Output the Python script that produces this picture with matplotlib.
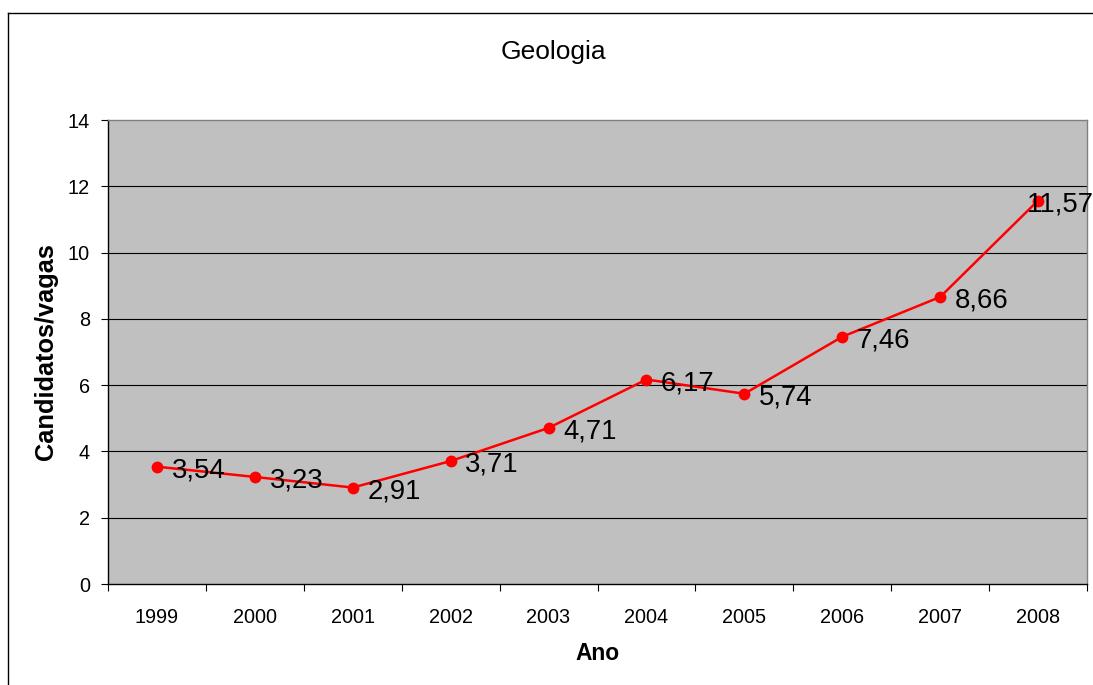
import matplotlib
matplotlib.use("Agg")
import matplotlib.pyplot as plt
from matplotlib.lines import Line2D
from matplotlib.ticker import FixedLocator, NullFormatter

plt.rcParams['font.family'] = ['Liberation Sans', 'DejaVu Sans']

years = ['1999', '2000', '2001', '2002', '2003', '2004', '2005', '2006', '2007', '2008']
values = [3.54, 3.23, 2.91, 3.71, 4.71, 6.17, 5.74, 7.46, 8.66, 11.57]
value_labels = ['3,54', '3,23', '2,91', '3,71', '4,71', '6,17', '5,74', '7,46', '8,66', '11,57']
yticks = [0, 2, 4, 6, 8, 10, 12, 14]

W, H = 1093, 685
fig = plt.figure(figsize=(W / 100, H / 100), dpi=100)
fig.patch.set_facecolor('white')

# outer chart border (left and top)
fig.add_artist(Line2D([8 / W, 8 / W], [0, 1 - 13 / H], color='black', lw=1.0, transform=fig.transFigure))
fig.add_artist(Line2D([8 / W, 1], [1 - 13 / H, 1 - 13 / H], color='black', lw=1.0, transform=fig.transFigure))

l, r, t, b = 108, 1087, 120, 584
ax = fig.add_axes([l / W, 1 - b / H, (r - l) / W, (b - t) / H])
ax.set_facecolor('#C0C0C0')

x = list(range(len(years)))
ax.set_xlim(-0.5, len(years) - 0.5)
ax.set_ylim(0, 14)

for yv in yticks[1:-1]:
    ax.axhline(yv, color='black', lw=0.8, zorder=1)

ax.plot(x, values, color='#FF0000', lw=1.8, marker='o', markersize=7.5, zorder=3, clip_on=False)
n = len(values)
for i, (xi, yi, lab) in enumerate(zip(x, values, value_labels)):
    # the last label is pushed back inside the chart area (it would overflow otherwise)
    dx = -8.2 if i == n - 1 else 10.5
    ax.annotate(lab, (xi, yi), xytext=(dx, -7.8), textcoords='offset points',
                ha='left', va='baseline', fontsize=19.8, color='black', zorder=4,
                annotation_clip=False)

ax.set_yticks(yticks)
ax.set_yticklabels([str(v) for v in yticks], fontsize=14.3)
ax.tick_params(axis='y', direction='out', length=5, width=0.8, pad=8, color='black')

ax.set_xticks(x)
ax.set_xticklabels(years, fontsize=14.3)
ax.tick_params(axis='x', which='major', length=0, pad=17)
ax.xaxis.set_minor_locator(FixedLocator([i - 0.5 for i in range(len(years) + 1)]))
ax.xaxis.set_minor_formatter(NullFormatter())
ax.tick_params(axis='x', which='minor', direction='out', length=5, width=0.8, color='black')

for s in ['top', 'right']:
    ax.spines[s].set_color('#808080')
    ax.spines[s].set_linewidth(1.0)
for s in ['left', 'bottom']:
    ax.spines[s].set_color('black')
    ax.spines[s].set_linewidth(1.0)

fig.text(553 / W, 1 - 59 / H, 'Geologia', ha='center', va='baseline', fontsize=19)
fig.text(597.5 / W, 1 - 660 / H, 'Ano', ha='center', va='baseline', fontsize=16.4, fontweight='bold')
fig.text(46 / W, 1 - 352 / H, 'Candidatos/vagas', ha='center', va='center', rotation=90,
         fontsize=18.3, fontweight='bold')

fig.savefig('out.png', dpi=100)
